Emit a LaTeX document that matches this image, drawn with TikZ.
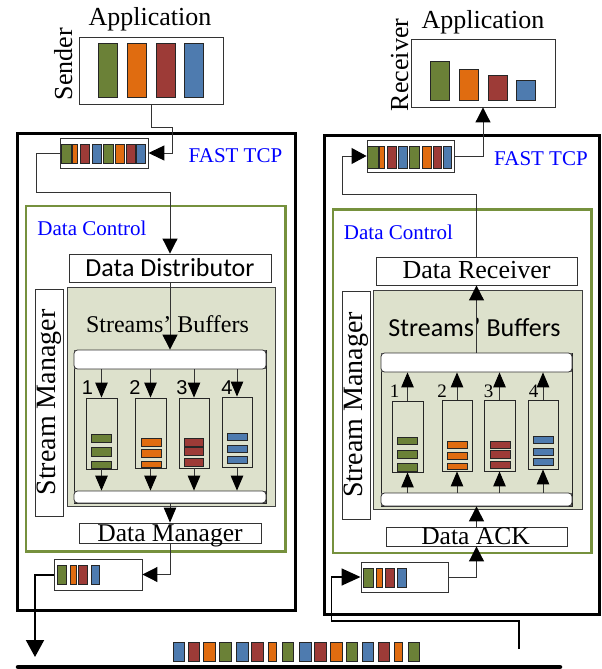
\documentclass[tikz,border=0pt]{standalone}
\usepackage{fontspec}
\setmainfont{Liberation Serif}
\newfontfamily\carl{Carlito}
\newfontfamily\arialish{Liberation Sans}
\usetikzlibrary{arrows.meta}

\definecolor{pG}{HTML}{6B8137}
\definecolor{pO}{HTML}{E06C10}
\definecolor{pR}{HTML}{9D3B37}
\definecolor{pB}{HTML}{4E7BAF}
\definecolor{ctlgreen}{HTML}{76913D}
\definecolor{bufbg}{HTML}{DDE1CC}

\begin{document}
\begin{tikzpicture}[x=1pt,y=-1pt,
  outerbox/.style={draw=black, line width=3pt, inner sep=0pt},
  ctlbox/.style={draw=ctlgreen, line width=2.6pt, inner sep=0pt},
  plainbox/.style={draw=black!80, line width=0.9pt, fill=white, inner sep=0pt},
  bufarea/.style={draw=black!75, line width=0.9pt, fill=bufbg, inner sep=0pt},
  qbox/.style={draw=black!85, line width=0.9pt, inner sep=0pt},
  band/.style={draw=black!80, line width=0.8pt, fill=white, rounded corners=3.5pt, inner sep=0pt},
  pkt/.style={draw=black!85, line width=0.8pt},
  conn/.style={draw=black!80, line width=1pt},
  arrS/.style={-{Triangle[length=15pt,width=12.5pt,color=black]}},
  arrM/.style={-{Triangle[length=15pt,width=15pt,color=black]}},
  lbl/.style={inner sep=0pt, anchor=base},
  bigserif/.style={font=\fontsize{26}{30}\selectfont},
  midserif/.style={font=\fontsize{25.5}{30}\selectfont},
  bluelbl/.style={text=blue, font=\fontsize{21}{24}\selectfont},
]
\useasboundingbox (0,0) rectangle (602,669);

% ---------------- Sender side ----------------
\node[outerbox, minimum width=278pt, minimum height=477pt] (souter) at (156,371.5) {};
\node[ctlbox, minimum width=259.5pt, minimum height=345.5pt] (sctl) at (155.75,378.75) {};

% application
\node[plainbox, minimum width=144pt, minimum height=67pt] (sapp) at (151,70.5) {};
\foreach \a/\c in {98/pG,127/pO,156/pR,184/pB}
  \draw[pkt,fill=\c] (\a,43) rectangle (\a+19,97);
\node[lbl, bigserif] (sapptxt) at (150,26) {Application};
\node[lbl, bigserif, rotate=90] (sendtxt) at (72,64) {Sender};

% FAST TCP send buffer
\node[plainbox, minimum width=88pt, minimum height=30pt] (sbuf) at (104,153) {};
\foreach \a/\b/\c in {61/71/pG,72/77/pO,80/89/pR,92/101/pB,103/113/pG,115/124/pO,126/135/pR,136/145/pB}
  \draw[pkt,fill=\c] (\a,144) rectangle (\b,163);
\node[lbl, bluelbl] (sfast) at (235.5,162) {FAST TCP};
\node[lbl, bluelbl] (sctltxt) at (92,235.7) {Data Control};

% data distributor
\node[plainbox, minimum width=202pt, minimum height=28pt] (sdist) at (170,268) {};
\node[lbl, font=\carl\fontsize{26}{30}\selectfont] (sdisttxt) at (170,276) {Data Distributor};

% stream buffers
\node[bufarea, minimum width=208pt, minimum height=219pt] (sbufs) at (171,396.5) {};
\node[lbl, font=\fontsize{24}{28}\selectfont] (sbufstxt) at (167.5,332.7) {Streams’ Buffers};
\node[plainbox, minimum width=28pt, minimum height=227pt] (smgr) at (49,402.5) {};
\node[inner sep=0pt, rotate=90, font=\fontsize{28}{30}\selectfont] (smgrtxt) at (49,402.5) {Stream Manager};

\node[qbox, minimum width=192pt, minimum height=153pt] (sinner) at (170,426.5) {};
\fill[black!60] (74,350) rectangle (266,369);
\node[band, minimum width=192pt, minimum height=19pt] (stop) at (170,359.5) {};
\fill[black!60] (74,491) rectangle (266,503);
\node[band, minimum width=192pt, minimum height=12pt] (sbot) at (170,497) {};

\node[qbox, minimum width=31pt, minimum height=71pt] (sq1) at (101.5,433.5) {};
\node[qbox, minimum width=31pt, minimum height=70pt] (sq2) at (150.5,433) {};
\node[qbox, minimum width=30pt, minimum height=70pt] (sq3) at (194,433) {};
\node[qbox, minimum width=30pt, minimum height=70pt] (sq4) at (237,432) {};
\foreach \n/\x in {1/87.5,2/135,3/182,4/227}
  \node[lbl, font=\arialish\fontsize{20}{24}\selectfont] (snum\n) at (\x,394) {\n};

\foreach \y/\z in {434/442,447/456,461/468} \draw[pkt,fill=pG] (91,\y) rectangle (111,\z);
\foreach \y/\z in {438/446,449/457,461/467} \draw[pkt,fill=pO] (141,\y) rectangle (161,\z);
\foreach \y/\z in {438/446,447/455,458/466} \draw[pkt,fill=pR] (184,\y) rectangle (203,\z);
\foreach \y/\z in {433/440,445/452,456/463} \draw[pkt,fill=pB] (227,\y) rectangle (247,\z);

% data manager and outgoing buffer
\node[plainbox, minimum width=182pt, minimum height=20pt] (sdm) at (170,533) {};
\node[lbl, midserif] (sdmtxt) at (170,541) {Data Manager};
\node[plainbox, minimum width=88pt, minimum height=31pt] (sout) at (98,574.5) {};
\foreach \a/\b/\c in {57/66/pG,70/76/pO,78/87/pR,91/99/pB}
  \draw[pkt,fill=\c] (\a,565) rectangle (\b,584);

% sender connectors
\draw[conn,-{Triangle[length=16pt,width=15pt,color=black]}] (sapp.south) -- ++(0,23) -| ([xshift=24pt]sbuf.east) -- (sbuf.east);
\draw[conn,arrM] (sbuf.west) -- ++(-23,0) |- ([yshift=61pt]sdist.north) -- (sdist.north);
\draw[conn,arrM] (sdist.south) -- (stop.north);
\foreach \q in {sq1,sq2,sq3,sq4} {
  \draw[conn,arrS] (\q.north |- stop.south) -- (\q.north);
  \draw[conn,arrS] (\q.south) -- (\q.south |- sbot.north);
}
\draw[conn,arrS] (sbot.south) -- (sdm.north);
\draw[conn,arrM] (sdm.south) |- (sout.east);

% ---------------- Receiver side ----------------
\node[outerbox, minimum width=275.5pt, minimum height=479pt] (router) at (461.75,375) {};
\node[ctlbox, minimum width=258.5pt, minimum height=343.5pt] (rctl) at (462.25,381.25) {};

\node[plainbox, minimum width=144pt, minimum height=68pt] (rapp) at (483,73) {};
\foreach \a/\t/\c in {430/61/pG,459/69/pO,488/75/pR,516/80/pB}
  \draw[pkt,fill=\c] (\a,\t) rectangle (\a+19,100);
\node[lbl, bigserif] (rapptxt) at (483,28.3) {Application};
\node[lbl, bigserif, rotate=90] (recvtxt) at (408,65) {Receiver};

\node[plainbox, minimum width=87pt, minimum height=32pt] (rbuf) at (410.5,156) {};
\foreach \a/\b/\c in {367/378/pG,379/384/pO,387/396/pR,398/407/pB,409/419/pG,422/431/pO,433/441/pR,443/451/pB}
  \draw[pkt,fill=\c] (\a,146) rectangle (\b,168);
\node[lbl, bluelbl] (rfast) at (541,165.7) {FAST TCP};
\node[lbl, bluelbl] (rctltxt) at (398.5,239) {Data Control};

\node[plainbox, minimum width=201pt, minimum height=28pt] (rrecv) at (476.5,271) {};
\node[lbl, bigserif] (rrecvtxt) at (476.5,278) {Data Receiver};

\node[bufarea, minimum width=209pt, minimum height=219pt] (rbufs) at (477.5,399.5) {};
\node[lbl, font=\carl\fontsize{26}{30}\selectfont] (rbufstxt) at (474.5,336.7) {Streams’ Buffers};
\node[plainbox, minimum width=28pt, minimum height=228pt] (rmgr) at (356,405) {};
\node[inner sep=0pt, rotate=90, font=\fontsize{28}{30}\selectfont] (rmgrtxt) at (356,405) {Stream Manager};

\node[qbox, minimum width=191pt, minimum height=153pt] (rinner) at (476.5,429.5) {};
\fill[black!60] (381,353) rectangle (572,372);
\node[band, minimum width=191pt, minimum height=19pt] (rtop) at (476.5,362.5) {};
\fill[black!60] (381,493) rectangle (572,506);
\node[band, minimum width=191pt, minimum height=13pt] (rbot) at (476.5,499.5) {};

\node[qbox, minimum width=31pt, minimum height=71pt] (rq1) at (407.5,436.5) {};
\node[qbox, minimum width=30pt, minimum height=71pt] (rq2) at (457,435.5) {};
\node[qbox, minimum width=31pt, minimum height=71pt] (rq3) at (499.5,435.5) {};
\node[qbox, minimum width=30pt, minimum height=69pt] (rq4) at (543,434.5) {};
\foreach \n/\x in {1/394.5,2/442,3/488.5,4/533.5}
  \node[lbl, font=\fontsize{19}{22}\selectfont] (rnum\n) at (\x,397.3) {\n};

\foreach \y/\z in {437/444,450/458,463/471} \draw[pkt,fill=pG] (397,\y) rectangle (417,\z);
\foreach \y/\z in {441/448,452/459,463/469} \draw[pkt,fill=pO] (447,\y) rectangle (467,\z);
\foreach \y/\z in {441/448,450/458,461/468} \draw[pkt,fill=pR] (490,\y) rectangle (510,\z);
\foreach \y/\z in {436/443,448/455,458/465} \draw[pkt,fill=pB] (533,\y) rectangle (553,\z);

\node[plainbox, minimum width=181pt, minimum height=19pt] (rack) at (476.5,536.5) {};
\node[lbl, midserif] (racktxt) at (475.5,544.3) {Data ACK};
\node[plainbox, minimum width=87pt, minimum height=30pt] (rin) at (404.5,577) {};
\foreach \a/\b/\c in {363/373/pG,376/382/pO,385/394/pR,397/406/pB}
  \draw[pkt,fill=\c] (\a,568) rectangle (\b,587);

% receiver connectors
\draw[conn,-{Triangle[length=15pt,width=15pt,color=black]}] (rbuf.east) -| (rapp.south);
\draw[conn,-{Triangle[length=15pt,width=16pt,color=black]}] (rrecv.north) -- ++(0,-62) -| ([xshift=-24pt]rbuf.west) -- (rbuf.west);
\draw[conn,arrM] (rtop.north) -- (rrecv.south);
\foreach \q in {rq1,rq2,rq3,rq4} {
  \draw[conn,arrS] (\q.north) -- (\q.north |- rtop.south);
  \draw[conn,arrS] (\q.south |- rbot.north) -- (\q.south);
}
\draw[conn,arrM] (rack.north) -- (rbot.south);
\draw[conn,arrM] (rin.east) -| (rack.south);

% ---------------- Network ----------------
\coordinate (busL) at (18,667);
\coordinate (busR) at (560,667);
\draw[line width=4.5pt, line cap=round] (busL) -- (busR);
\foreach \a/\b/\c in {173/184/pB,188/199/pR,203/215/pO,219/231/pG,236/248/pB,251/263/pR,268/276/pO,282/293/pG,299/311/pB,314/326/pR,330/342/pO,346/357/pG,362/373/pB,378/389/pR,394/402/pO,408/419/pG}
  \draw[pkt,fill=\c] (\a,642) rectangle (\b,661);

\coordinate (sdrop) at (35,657);
\draw[line width=2pt, -{Triangle[length=17pt,width=18pt]}] (sout.west) -| (sdrop);
\coordinate (rtap) at (519,649);
\draw[line width=1.5pt, -{Triangle[length=19pt,width=17pt]}] (rtap) -- ++(0,-28) -| ([xshift=-29pt]rin.west) -- (rin.west);
\end{tikzpicture}
\end{document}
